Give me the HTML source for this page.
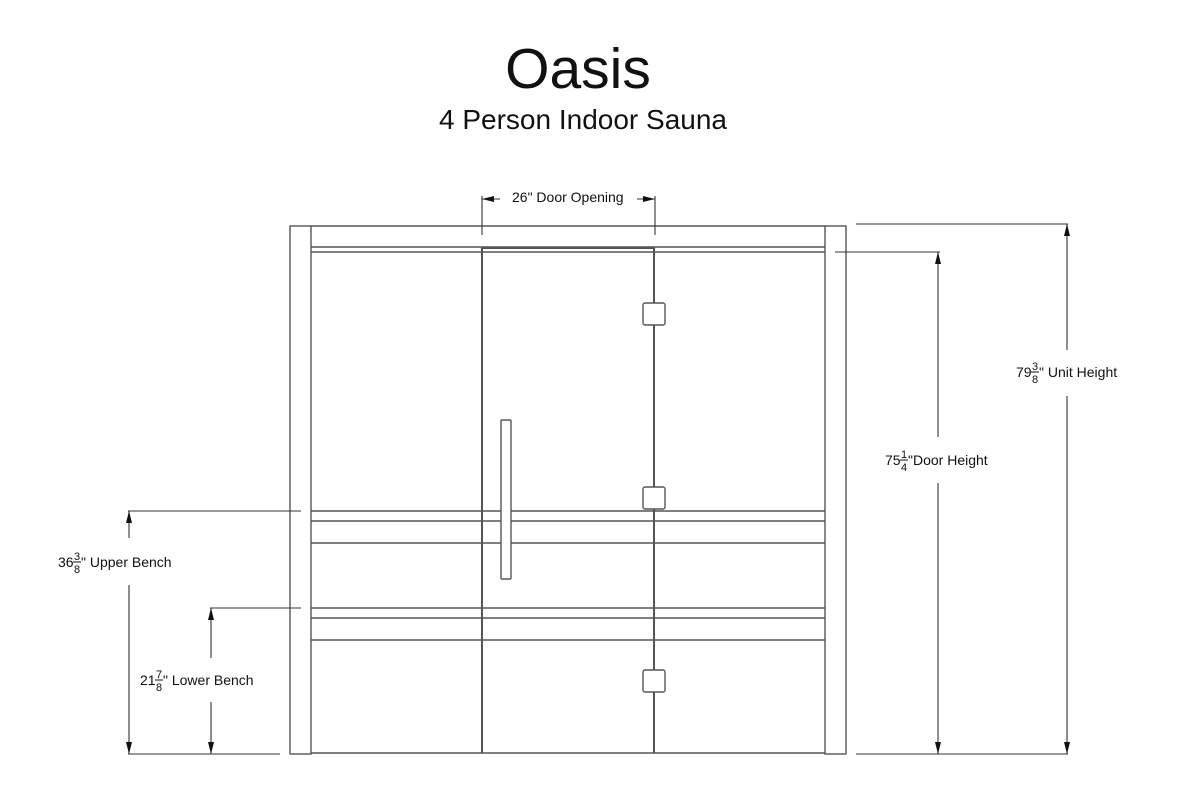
<!DOCTYPE html>
<html><head><meta charset="utf-8"><style>
html,body{margin:0;padding:0;background:#fff;width:1200px;height:800px;overflow:hidden}
svg{display:block}
text{font-family:"Liberation Sans",Arial,sans-serif;fill:#111}
</style></head><body>
<svg width="1200" height="800" viewBox="0 0 1200 800" xmlns="http://www.w3.org/2000/svg">
<defs>
<marker id="a" viewBox="0 0 12 6" refX="12" refY="3" markerWidth="12" markerHeight="6" orient="auto-start-reverse" markerUnits="userSpaceOnUse"><path d="M0,0 L12,3 L0,6 Z" fill="#111"/></marker>
</defs>
<text x="578" y="88" font-size="57" text-anchor="middle">Oasis</text>
<text x="583" y="129" font-size="28" text-anchor="middle">4 Person Indoor Sauna</text>

<g stroke="#555" stroke-width="1.4" fill="none">
<rect x="290" y="226" width="21" height="528"/>
<rect x="825" y="226" width="21" height="528"/>
<line x1="311" y1="226" x2="825" y2="226"/>
<line x1="311" y1="247" x2="825" y2="247"/>
<line x1="311" y1="252" x2="825" y2="252"/>
<line x1="311" y1="753" x2="825" y2="753"/>
<line x1="482" y1="247" x2="482" y2="753" stroke-width="2"/>
<line x1="654" y1="247" x2="654" y2="753" stroke-width="2"/>
<line x1="482" y1="248" x2="654" y2="248" stroke-width="2"/>
<line x1="311" y1="511" x2="825" y2="511"/>
<line x1="311" y1="521" x2="825" y2="521"/>
<line x1="311" y1="543" x2="825" y2="543"/>
<line x1="311" y1="608" x2="825" y2="608"/>
<line x1="311" y1="618" x2="825" y2="618"/>
<line x1="311" y1="640" x2="825" y2="640"/>
</g>
<g stroke="#555" stroke-width="1.4" fill="#fff">
<rect x="501" y="420" width="10" height="159" rx="1"/>
<rect x="643" y="303" width="22" height="22" rx="2"/>
<rect x="643" y="487" width="22" height="22" rx="2"/>
<rect x="643" y="670" width="22" height="22" rx="2"/>
</g>

<g stroke="#333" stroke-width="1.1" fill="none">
<line x1="482" y1="196" x2="482" y2="235"/>
<line x1="655" y1="196" x2="655" y2="235"/>
<line x1="482" y1="199" x2="500" y2="199" marker-start="url(#a)"/>
<line x1="637" y1="199" x2="655" y2="199" marker-end="url(#a)"/>

<line x1="128" y1="511" x2="301" y2="511"/>
<line x1="210" y1="608" x2="301" y2="608"/>
<line x1="128" y1="754" x2="280" y2="754"/>
<line x1="129" y1="538" x2="129" y2="511" marker-end="url(#a)"/>
<line x1="129" y1="585" x2="129" y2="754" marker-end="url(#a)"/>
<line x1="211" y1="658" x2="211" y2="608" marker-end="url(#a)"/>
<line x1="211" y1="702" x2="211" y2="754" marker-end="url(#a)"/>

<line x1="856" y1="224" x2="1068" y2="224"/>
<line x1="835" y1="252" x2="940" y2="252"/>
<line x1="856" y1="754" x2="1068" y2="754"/>
<line x1="1067" y1="350" x2="1067" y2="224" marker-end="url(#a)"/>
<line x1="1067" y1="396" x2="1067" y2="754" marker-end="url(#a)"/>
<line x1="938" y1="437" x2="938" y2="252" marker-end="url(#a)"/>
<line x1="938" y1="483" x2="938" y2="754" marker-end="url(#a)"/>
</g>

<text x="512" y="202" font-size="14">26" Door Opening</text>

<text x="58" y="567" font-size="14">36</text>
<text x="74" y="560" font-size="11">3</text><line x1="73" y1="562" x2="81" y2="562" stroke="#111"/>
<text x="74" y="573" font-size="11">8</text>
<text x="81" y="567" font-size="14">" Upper Bench</text>

<text x="140" y="685" font-size="14">21</text>
<text x="156" y="678" font-size="11">7</text><line x1="155" y1="680" x2="163" y2="680" stroke="#111"/>
<text x="156" y="691" font-size="11">8</text>
<text x="163" y="685" font-size="14">" Lower Bench</text>

<text x="885" y="465" font-size="14">75</text>
<text x="901" y="458" font-size="11">1</text><line x1="900" y1="460" x2="908" y2="460" stroke="#111"/>
<text x="901" y="471" font-size="11">4</text>
<text x="908" y="465" font-size="14">"Door Height</text>

<text x="1016" y="377" font-size="14">79</text>
<text x="1032" y="370" font-size="11">3</text><line x1="1031" y1="372" x2="1039" y2="372" stroke="#111"/>
<text x="1032" y="383" font-size="11">8</text>
<text x="1039" y="377" font-size="14">" Unit Height</text>
</svg>
</body></html>
